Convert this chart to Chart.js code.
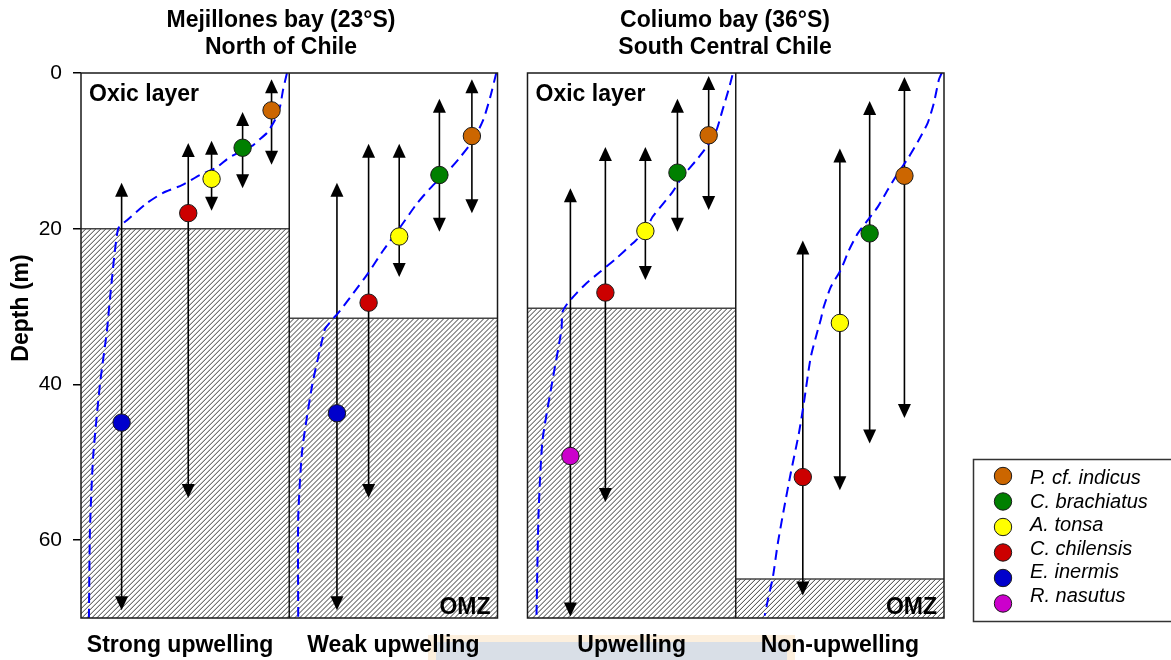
<!DOCTYPE html>
<html>
<head>
<meta charset="utf-8">
<script src="https://cdn.jsdelivr.net/npm/chart.js@4.4.0/dist/chart.umd.min.js"></script>
<style>
  html, body { margin: 0; padding: 0; background: #fff; }
</style>
</head>
<body>
<canvas id="depthChart" width="1171" height="660"></canvas>
<script>
var panelLabels = ["Strong upwelling", "Weak upwelling", "Upwelling", "Non-upwelling"];
var siteTitles = [["Mejillones bay (23°S)", "North of Chile"], ["Coliumo bay (36°S)", "South Central Chile"]];
var depthTicks = [0, 20, 40, 60];
var omzDepth = [20, 31.5, 30.2, 65];

var speciesNames = ["P. cf. indicus", "C. brachiatus", "A. tonsa", "C. chilensis", "E. inermis", "R. nasutus"];

// mean depth (m) per panel, null where the species is absent
var depthIndicus = [4.8, 8.1, 8.0, 13.2];
var depthBrachiatus = [9.6, 13.1, 12.8, 20.6];
var depthTonsa = [13.6, 21.0, 20.3, 32.1];
var depthChilensis = [18.0, 29.5, 28.2, 51.9];
var depthInermis = [44.9, 43.7, null, null];
var depthNasutus = [null, null, 49.2, null];

// vertical range (shallow, deep) per panel
var rangeIndicus = [[0.8, 11.8], [0.8, 18.0], [0.4, 17.6], [0.5, 44.3]];
var rangeBrachiatus = [[5.0, 14.8], [3.3, 20.4], [3.3, 20.4], [3.6, 47.6]];
var rangeTonsa = [[8.7, 17.7], [9.1, 26.2], [9.5, 26.6], [9.7, 53.6]];
var rangeChilensis = [[9.0, 54.6], [9.1, 54.6], [9.5, 55.1], [21.5, 67.1]];
var rangeInermis = [[14.1, 69.0], [14.1, 69.0], null, null];
var rangeNasutus = [null, null, [14.8, 69.8], null];

// slot of each species inside a panel (0..100 across the panel)
var slotIndicus = [91.5, 87.7, 87.0, 81.0];
var slotBrachiatus = [77.6, 72.1, 72.0, 64.3];
var slotTonsa = [62.7, 52.8, 56.6, 50.0];
var slotChilensis = [51.5, 38.1, 37.4, 32.2];
var slotInermis = [19.5, 22.9, null, null];
var slotNasutus = [null, null, 20.6, null];

// oxycline (dashed blue), depth and position inside the panel
var oxyDepth1 = [0, 2.2, 4.3, 6, 7.7, 8.8, 9.3, 10.8, 12.1, 13.1, 14.4, 15.4, 16.7, 18.9, 20, 29, 33, 40, 49.4, 58.7, 70];
var oxySlot1 = [98.9, 97.0, 95.6, 93.2, 89.3, 84.5, 82.6, 71.5, 65.3, 57.1, 48.5, 39.4, 31.7, 22.1, 17.8, 13.9, 12.5, 9.1, 5.8, 4.3, 3.8];
var oxyDepth2 = [0, 3.1, 6, 8.6, 10.8, 12.7, 14.4, 16.7, 19.8, 22.8, 25.7, 28.3, 30.5, 32.8, 34.3, 40.1, 48.5, 57.1, 70];
var oxySlot2 = [99.4, 96.5, 93.2, 88.4, 82.1, 75.9, 69.1, 61.5, 53.3, 45.1, 37.9, 30.7, 24.5, 17.3, 15.8, 11.0, 6.2, 4.3, 4.3];
var oxyDepth3 = [0.3, 2.2, 4.8, 7.3, 9.5, 11.2, 13.3, 15.3, 18.5, 20.3, 21.9, 23.8, 25.6, 27.0, 28.3, 29.6, 30.7, 33, 39.5, 47.2, 56.6, 70];
var oxySlot3 = [98.4, 96.5, 93.6, 90.8, 86.0, 81.1, 74.4, 69.6, 60.0, 56.7, 50.4, 42.7, 34.6, 28.3, 23.5, 19.2, 16.8, 16.3, 12.0, 7.2, 5.3, 4.3];
var oxyDepth4 = [0, 0.9, 3.9, 6.4, 8.6, 10.8, 12.9, 15, 17.2, 18.9, 20.6, 22.8, 25.3, 27.5, 30, 31.7, 33, 36.5, 42.4, 46.3, 51.4, 56.2, 60.4, 64.8, 67.7, 69.7];
var oxySlot4 = [98.9, 97.5, 95.1, 92.2, 87.9, 83.1, 77.8, 73.0, 68.2, 63.4, 58.6, 54.3, 50.4, 45.6, 42.3, 40.8, 39.4, 36.0, 32.7, 30.3, 26.4, 23.0, 20.2, 17.8, 15.4, 13.9];

var speciesColors = ["#cc6600", "#008000", "#ffff00", "#cc0000", "#0000cc", "#cc00cc"];
var panelStart = [0, 100, 214.4, 314.4];
var panelGroups = [[0, 1], [2, 3]];

var speciesDepth = [depthIndicus, depthBrachiatus, depthTonsa, depthChilensis, depthInermis, depthNasutus];
var speciesRange = [rangeIndicus, rangeBrachiatus, rangeTonsa, rangeChilensis, rangeInermis, rangeNasutus];
var speciesSlot = [slotIndicus, slotBrachiatus, slotTonsa, slotChilensis, slotInermis, slotNasutus];
var oxyDepth = [oxyDepth1, oxyDepth2, oxyDepth3, oxyDepth4];
var oxySlot = [oxySlot1, oxySlot2, oxySlot3, oxySlot4];

var FONT = "'Liberation Sans', Arial, sans-serif";

var datasets = speciesNames.map(function(name, i) {
  var pts = [];
  speciesDepth[i].forEach(function(d, p) {
    if (d == null) return;
    pts.push({x: panelStart[p] + speciesSlot[i][p], y: d, lo: speciesRange[i][p][0], hi: speciesRange[i][p][1]});
  });
  return {
    label: name,
    data: pts,
    backgroundColor: speciesColors[i],
    borderColor: "#1a1a1a",
    borderWidth: 1,
    pointRadius: 8.7,
    pointHoverRadius: 8.7,
    order: 0
  };
});

oxyDepth.forEach(function(depths, p) {
  datasets.push({
    label: "oxycline " + (p + 1),
    isOxycline: true,
    data: depths.map(function(d, k) { return {x: panelStart[p] + oxySlot[p][k], y: d}; }),
    showLine: true,
    borderColor: "#0000ff",
    borderWidth: 2,
    borderDash: [10, 6],
    tension: 0.2,
    pointRadius: 0,
    pointHoverRadius: 0,
    order: 1
  });
});

function panelBox(chart, p) {
  var xs = chart.scales.x, ys = chart.scales.y;
  return {
    l: xs.getPixelForValue(panelStart[p]),
    r: xs.getPixelForValue(panelStart[p] + 100),
    t: ys.getPixelForValue(0),
    b: ys.getPixelForValue(70)
  };
}

function drawHatch(ctx, l, t, r, b) {
  ctx.save();
  ctx.beginPath();
  ctx.rect(l, t, r - l, b - t);
  ctx.clip();
  ctx.strokeStyle = "#3a3a3a";
  ctx.lineWidth = 1;
  ctx.beginPath();
  var h = b - t;
  for (var x = l - h; x < r; x += 5) {
    ctx.moveTo(x, b);
    ctx.lineTo(x + h, t);
  }
  ctx.stroke();
  ctx.restore();
}

function arrowHead(ctx, x, tipY, dir) {
  ctx.beginPath();
  ctx.moveTo(x, tipY);
  ctx.lineTo(x - 6.5, tipY + dir * 14);
  ctx.lineTo(x + 6.5, tipY + dir * 14);
  ctx.closePath();
  ctx.fill();
}

var panelPlugin = {
  id: "panels",
  beforeDraw: function(chart) {
    var ctx = chart.ctx;
    ctx.save();
    ctx.fillStyle = "#fcefdd";
    ctx.fillRect(428, 635, 367, 25);
    ctx.fillStyle = "#d9dfe7";
    ctx.fillRect(436, 642, 351, 18);
    ctx.restore();
  },
  beforeDatasetsDraw: function(chart) {
    var ctx = chart.ctx, ys = chart.scales.y;
    ctx.save();
    omzDepth.forEach(function(d, p) {
      var bx = panelBox(chart, p);
      var top = ys.getPixelForValue(d);
      drawHatch(ctx, bx.l, top, bx.r, bx.b);
      ctx.strokeStyle = "#444";
      ctx.lineWidth = 1.5;
      ctx.beginPath();
      ctx.moveTo(bx.l, top);
      ctx.lineTo(bx.r, top);
      ctx.stroke();
    });
    // depth ranges as double arrows
    ctx.strokeStyle = "#000";
    ctx.fillStyle = "#000";
    ctx.lineWidth = 1.6;
    chart.data.datasets.forEach(function(ds, i) {
      if (ds.isOxycline) return;
      var meta = chart.getDatasetMeta(i);
      ds.data.forEach(function(pt, j) {
        var x = meta.data[j].x;
        var yTop = ys.getPixelForValue(pt.lo);
        var yBot = ys.getPixelForValue(pt.hi);
        ctx.beginPath();
        ctx.moveTo(x, yTop + 10);
        ctx.lineTo(x, yBot - 10);
        ctx.stroke();
        arrowHead(ctx, x, yTop, 1);
        arrowHead(ctx, x, yBot, -1);
      });
    });
    ctx.restore();
  },
  afterDraw: function(chart) {
    var ctx = chart.ctx;
    ctx.save();
    // frames
    ctx.strokeStyle = "#1a1a1a";
    ctx.lineWidth = 1.5;
    panelGroups.forEach(function(g) {
      var a = panelBox(chart, g[0]), b = panelBox(chart, g[1]);
      ctx.strokeRect(a.l, a.t, b.r - a.l, a.b - a.t);
      ctx.beginPath();
      ctx.moveTo(a.r, a.t);
      ctx.lineTo(a.r, a.b);
      ctx.stroke();
    });
    ctx.fillStyle = "#000";
    ctx.font = "bold 23px " + FONT;
    ctx.textAlign = "center";
    ctx.textBaseline = "alphabetic";
    var titleX = [281, 725];
    siteTitles.forEach(function(lines, g) {
      ctx.fillText(lines[0], titleX[g], 27);
      ctx.fillText(lines[1], titleX[g], 54);
    });
    panelLabels.forEach(function(lbl, p) {
      var bx = panelBox(chart, p);
      ctx.fillText(lbl, (bx.l + bx.r) / 2 - (p === 0 ? 5 : 0), 652);
    });
    ctx.textAlign = "left";
    [0, 2].forEach(function(p) {
      var bx = panelBox(chart, p);
      ctx.fillText("Oxic layer", bx.l + 8, 101);
    });
    ctx.textAlign = "right";
    [1, 3].forEach(function(p) {
      var bx = panelBox(chart, p);
      ctx.fillText("OMZ", bx.r - 7, 614);
    });
    // y axis title
    ctx.save();
    ctx.translate(28, 308);
    ctx.rotate(-Math.PI / 2);
    ctx.textAlign = "center";
    ctx.fillText("Depth (m)", 0, 0);
    ctx.restore();
    // legend
    ctx.strokeStyle = "#333";
    ctx.lineWidth = 1.5;
    ctx.strokeRect(973.5, 459.5, 220, 162);
    ctx.font = "italic 20px " + FONT;
    ctx.textAlign = "left";
    var k = 0;
    chart.data.datasets.forEach(function(ds) {
      if (ds.isOxycline) return;
      var cy = 476 + k * 25.5;
      ctx.beginPath();
      ctx.arc(1003, cy, 8.7, 0, Math.PI * 2);
      ctx.fillStyle = ds.backgroundColor;
      ctx.fill();
      ctx.strokeStyle = "#1a1a1a";
      ctx.lineWidth = 1;
      ctx.stroke();
      ctx.fillStyle = "#000";
      ctx.fillText(ds.label, 1030, 484 + k * 23.5);
      k++;
    });
    ctx.restore();
  }
};

var chart = new Chart(document.getElementById("depthChart"), {
  type: "scatter",
  data: { datasets: datasets },
  options: {
    responsive: false,
    animation: false,
    layout: { padding: { left: 0, top: 73, right: 227, bottom: 42 } },
    plugins: { legend: { display: false }, tooltip: { enabled: false } },
    scales: {
      x: { type: "linear", min: 0, max: 414.4, display: false },
      y: {
        type: "linear",
        reverse: true,
        min: 0,
        max: 70,
        afterFit: function(s) { s.width = 81; },
        afterBuildTicks: function(s) { s.ticks = depthTicks.map(function(v) { return {value: v}; }); },
        border: { display: false },
        grid: { drawOnChartArea: false, drawTicks: true, tickLength: 8, color: "#000", lineWidth: 1.5 },
        ticks: { color: "#000", padding: 11, font: { family: FONT, size: 21 } }
      }
    }
  },
  plugins: [panelPlugin]
});
</script>
</body>
</html>
